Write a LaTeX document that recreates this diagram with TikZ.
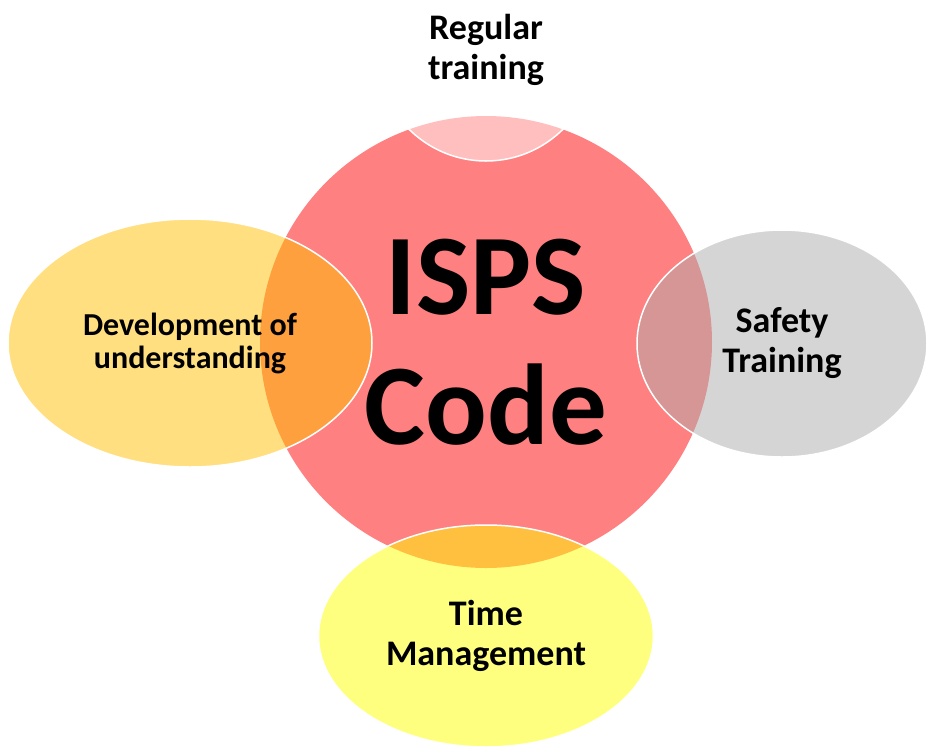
\documentclass[tikz,border=0pt]{standalone}
\usepackage{fontspec}
\setmainfont{Carlito}
\usetikzlibrary{shapes.geometric}
\definecolor{corered}{RGB}{255,128,128}
\definecolor{gold}{RGB}{255,192,0}
\definecolor{lemon}{RGB}{255,255,0}
\definecolor{stone}{RGB}{174,172,173}

\begin{document}
\begin{tikzpicture}[x=1pt,y=-1pt,
  petal/.style={ellipse, draw=white, line width=1.5pt, fill opacity=0.5,
    text opacity=1, draw opacity=1, inner sep=0pt, align=center,
    font=\fontsize{36}{40}\selectfont\bfseries},
  hub/.style={circle, fill=corered, inner sep=0pt, align=center,
    font=\fontsize{115}{130}\selectfont\bfseries}]
\useasboundingbox (0,0) rectangle (927,748);
\clip (0,0) rectangle (927,748);

% central circle
\node[hub, minimum size=452pt] (core) at (486,342) {ISPS\\Code};

% surrounding ellipses, half transparent over the circle
\node[petal, fill=white, minimum width=220pt, minimum height=222pt]
  (top) at (486,50) {Regular\\training};
\node[petal, fill=gold, minimum width=364pt, minimum height=248pt,
  font=\fontsize{32}{33}\selectfont\bfseries]
  (left) at (190,343) {Development of\\understanding};
\node[petal, fill=stone, minimum width=290pt, minimum height=227pt]
  (right) at (782,343.5) {Safety\\Training};
\node[petal, fill=lemon, minimum width=335pt, minimum height=222pt]
  (bottom) at (486,636) {Time\\Management};
\end{tikzpicture}
\end{document}
